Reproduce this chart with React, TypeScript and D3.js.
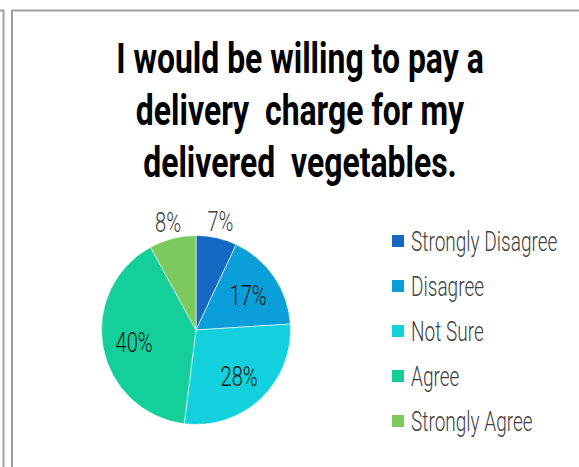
import * as React from "react";
import * as d3 from "d3";

const titleLines = [
  "I would be willing to pay a",
  "delivery  charge for my",
  "delivered  vegetables.",
];
const categories = ["Strongly Disagree", "Disagree", "Not Sure", "Agree", "Strongly Agree"];
const shares = [7, 17, 28, 40, 8];
const colors = ["#1468c2", "#0a9fd8", "#12d0dc", "#14cf9a", "#7cc95e"];
// labels drawn outside the pie (small slices)
const outside = [true, false, false, false, true];

const width = 579;
const height = 467;
const cx = 196;
const cy = 330;
const radius = 94.5;

const narrow = "Roboto, 'DejaVu Sans', sans-serif";

export default function App() {
  const pie = d3
    .pie<number>()
    .sort(null)
    .value((d) => d);
  const arcs = pie(shares);
  const arc = d3.arc<d3.PieArcDatum<number>>().innerRadius(0).outerRadius(radius);
  const inLabel = d3.arc<d3.PieArcDatum<number>>().innerRadius(126).outerRadius(0);
  const outLabel = d3.arc<d3.PieArcDatum<number>>().innerRadius(224).outerRadius(0);

  const legendY = d3
    .scalePoint<string>()
    .domain(categories)
    .range([241, 421]);

  return (
    <svg
      width={width}
      height={height}
      style={{ position: "absolute", left: 0, top: 0, background: "#fff" }}
    >
      {/* frames */}
      <rect x={-20} y={10.5} width={23.5} height={480} fill="none" stroke="#a0a0a0" strokeWidth={2} />
      <rect x={12} y={10.5} width={600} height={480} fill="none" stroke="#a0a0a0" strokeWidth={2} />

      {/* title */}
      <g fontFamily={narrow} fontWeight="bold" fontSize={42} fill="#000" textAnchor="middle">
        {titleLines.map((t, i) => (
          <text
            key={i}
            transform={`translate(300, ${73 + i * 52}) scale(0.76, 1)`}
            style={{ whiteSpace: "pre" }}
          >
            {t}
          </text>
        ))}
      </g>

      {/* pie */}
      <g transform={`translate(${cx}, ${cy})`}>
        {arcs.map((a, i) => (
          <path key={i} d={arc(a) || ""} fill={colors[i]} stroke="#fff" strokeWidth={0.6} />
        ))}
        {arcs.map((a, i) => {
          const [x, y] = outside[i] ? outLabel.centroid(a) : inLabel.centroid(a);
          return (
            <text
              key={"l" + i}
              transform={`translate(${x}, ${y + 10}) scale(0.72, 1)`}
              textAnchor="middle"
              fontFamily={narrow}
              fontWeight={300}
              fontSize={28}
              fill={outside[i] ? "#404040" : "#1a1a1a"}
            >
              {a.data + "%"}
            </text>
          );
        })}
      </g>

      {/* legend */}
      <g fontFamily={narrow} fontWeight={300} fontSize={28} fill="#404040">
        {categories.map((c, i) => (
          <g key={c} transform={`translate(392, ${legendY(c)})`}>
            <rect x={0} y={-6} width={12} height={12} fill={colors[i]} />
            <text transform="translate(19, 10) scale(0.68, 1)">{c}</text>
          </g>
        ))}
      </g>
    </svg>
  );
}
